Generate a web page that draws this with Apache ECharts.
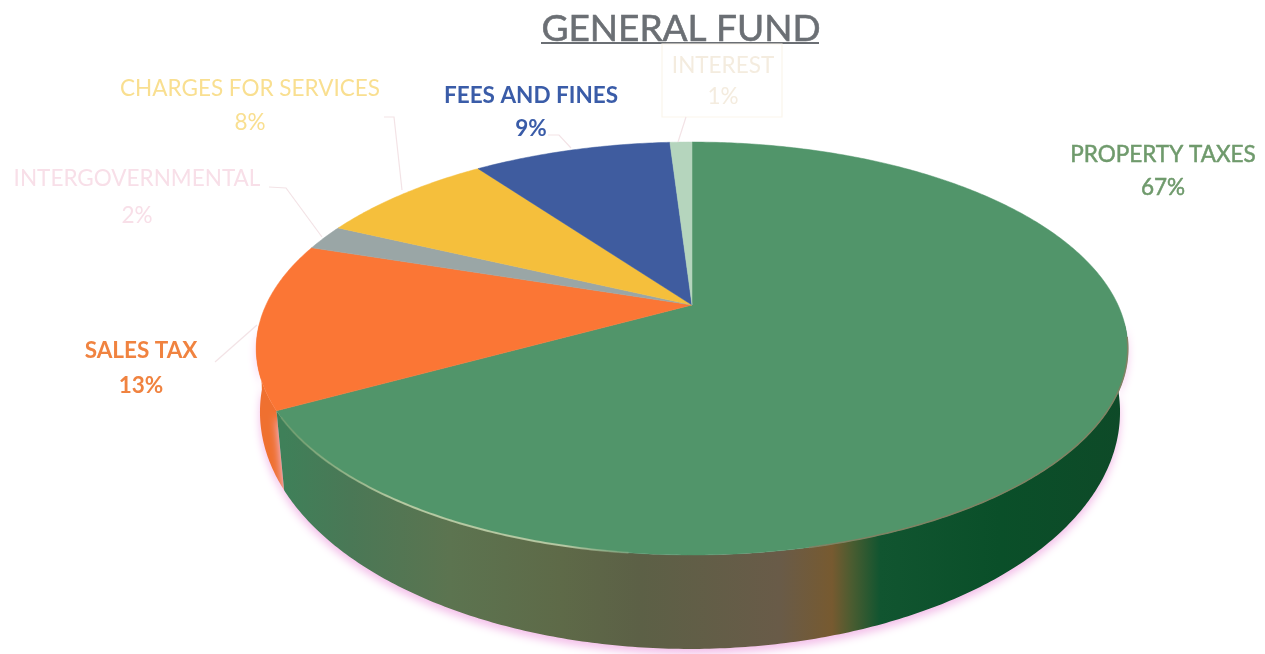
<!DOCTYPE html>
<html><head><meta charset="utf-8">
<style>html,body{margin:0;padding:0;background:#fff}#c{width:1265px;height:654px}</style>
<script src="https://cdn.jsdelivr.net/npm/echarts@6/dist/echarts.min.js"></script>
</head><body><div id="c"></div>
<script>
// data
const categories = ['PROPERTY TAXES','SALES TAX','INTERGOVERNMENTAL','CHARGES FOR SERVICES','FEES AND FINES','INTEREST'];
const shares = [67,13,2,8,9,1];
// styles
const topColors = ['#51956a','#fb7635','#9aa6a6','#f5bf3c','#3f5c9f','#b5d5bd'];
const wallColors = [null,'#ef7030',null,null,null,null];
const labelColors = ['#6f9a6c','#f08340','#f8dfe8','#f9df90','#3a5ca8','#f4ecdf'];
const labelWeights = [400,700,400,400,700,400];
// label layout
const labelX = [1163,141,137,250,531,723];
const nameY = [155,351,179,89,96,66];
const pctY = [188,386,216,123,129,97];
const leaderXs = [[],[215,257],[269,286,322],[384,394,402],[548,559,571],[686,678]];
const leaderYs = [[],[362,325],[187,188,237],[117,117,190],[135,135,148],[117,142]];

// perspective disc: centre x, apex y, perspective factor, half-axes
const TOP = {cx:692, ay:305, p:0.2107, k:426, m:197.3};
const BOT = {cx:690, ay:369.3, p:0.18, k:423, m:229.3};
// the side wall is only seen from just past the right extreme to just past the left extreme
const WALL_FROM = Math.PI*0.528, WALL_TO = Math.PI*1.472;
function project(d, a){
  const s=Math.sin(a), c=Math.cos(a), w=1+d.p*c;
  return [d.cx+d.k*s/w, d.ay-d.m*c/w];
}
const total = shares.reduce((a,b)=>a+b,0);
const startPct = []; shares.reduce((acc,v,i)=>{startPct[i]=acc; return acc+v;},0);
const rad = pct => pct/total*Math.PI*2;
function arc(d,a0,a1){
  const n=Math.max(6,Math.ceil((a1-a0)/0.01)), pts=[];
  for(let i=0;i<=n;i++) pts.push(project(d,a0+(a1-a0)*i/n));
  return pts;
}
const W=1265;
const wallStops=[[284,'#3f8059'],[350,'#4a7856'],[450,'#5c7450'],[560,'#5e6a48'],[640,'#5c6046'],[780,'#695b48'],[832,'#775a30'],[852,'#4a5c30'],[880,'#115530'],[1000,'#0a4f29'],[1125,'#0e4a28']];
const wallFill={type:'linear',x:0,y:0,x2:W,y2:0,global:true,colorStops:wallStops.map(s=>({offset:s[0]/W,color:s[1]}))};

const chart = echarts.init(document.getElementById('c'),null,{renderer:'canvas'});
const rows = shares.map(v=>[v]);
chart.setOption({
  animation:false,
  backgroundColor:'#fff',
  title:{text:'GENERAL FUND',left:676,top:6,textAlign:'center',
    textStyle:{fontFamily:'Lato',fontSize:37,fontWeight:400,color:'#6b6f74',textBorderColor:'#6b6f74',textBorderWidth:0.6}},
  graphic:[{type:'rect',shape:{x:541,y:42,width:278,height:2},style:{fill:'#6b6f74'},silent:true}],
  series:[
  {type:'custom',coordinateSystem:'none',silent:true,z:1,data:rows,
   renderItem(params,api){
     const i=params.dataIndex; if(i>1) return null;
     const a0=Math.max(rad(startPct[i]),WALL_FROM), a1=Math.min(rad(startPct[i])+rad(api.value(0)),WALL_TO);
     const pts=arc(TOP,a0,a1).concat(arc(BOT,a0,a1).reverse());
     return {type:'polygon',shape:{points:pts},z2:i===0?2:1,
       style:{fill:wallColors[i]||wallFill,shadowBlur:9,shadowColor:'#f3bfe9',shadowOffsetX:0,shadowOffsetY:5}};
   }},
  {type:'custom',coordinateSystem:'none',silent:true,z:2,data:rows,
   renderItem(params,api){
     const i=params.dataIndex;
     const a0=rad(startPct[i]), a1=a0+rad(api.value(0));
     const children=[{type:'polygon',shape:{points:[[TOP.cx,TOP.ay]].concat(arc(TOP,a0,a1))},
       style:{fill:topColors[i],stroke:topColors[i],lineWidth:0.5}}];
     if(i===0){
       children.push({type:'polyline',shape:{points:arc(TOP,a1-0.95,a1-0.03)},
         style:{fill:null,lineWidth:2,stroke:{type:'linear',x:284,y:0,x2:660,y2:0,global:true,colorStops:[
           {offset:0,color:'rgba(120,160,110,.6)'},{offset:.3,color:'rgba(195,210,170,.85)'},{offset:.75,color:'rgba(200,212,175,.8)'},{offset:1,color:'rgba(130,160,120,.2)'}]}}});
       children.push({type:'polyline',shape:{points:arc(TOP,Math.PI*0.55,Math.PI*0.93)},
         style:{fill:null,lineWidth:1.5,stroke:'#7f8263'}});
     }
     return {type:'group',children};
   }},
  {type:'custom',coordinateSystem:'none',silent:true,z:3,data:rows,
   renderItem(params,api){
     const i=params.dataIndex;
     const col=labelColors[i];
     const base={align:'center',verticalAlign:'middle',font:`${labelWeights[i]} 22.5px Lato`,fill:col,
       stroke:labelWeights[i]===400&&i===0?col:null,lineWidth:0.5};
     const children=[
       {type:'text',style:Object.assign({text:categories[i],x:labelX[i],y:nameY[i]},base)},
       {type:'text',style:Object.assign({text:api.value(0)+'%',x:labelX[i],y:pctY[i]},base)}
     ];
     if(leaderXs[i].length){
       children.unshift({type:'polyline',shape:{points:leaderXs[i].map((x,j)=>[x,leaderYs[i][j]])},
         style:{fill:null,stroke:'#f3e3e6',lineWidth:1.2}});
     }
     if(i===5){
       children.unshift({type:'rect',shape:{x:662,y:44,width:120,height:73},style:{fill:'rgba(255,255,255,0)',stroke:'#fbf5ec',lineWidth:1.2}});
     }
     return {type:'group',children};
   }}
  ]
});
</script></body></html>
